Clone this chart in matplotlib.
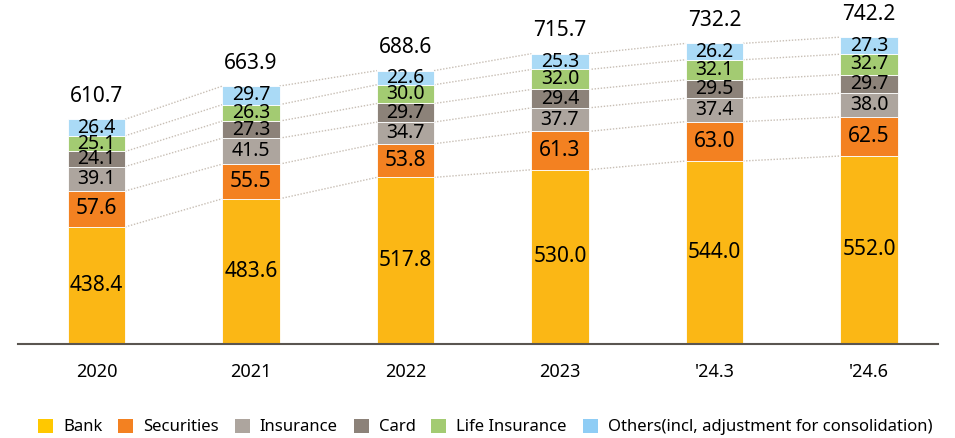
import numpy as np
import matplotlib
matplotlib.use("Agg")
import matplotlib.pyplot as plt
from matplotlib.patches import Patch

plt.rcParams['font.family'] = ['Noto Sans', 'DejaVu Sans']

# data
periods = ["2020", "2021", "2022", "2023", "'24.3", "'24.6"]
bank = [438.4, 483.6, 517.8, 530.0, 544.0, 552.0]
securities = [57.6, 55.5, 53.8, 61.3, 63.0, 62.5]
insurance = [39.1, 41.5, 34.7, 37.7, 37.4, 38.0]
card = [24.1, 27.3, 29.7, 29.4, 29.5, 29.7]
life = [25.1, 26.3, 30.0, 32.0, 32.1, 32.7]
others = [26.4, 29.7, 22.6, 25.3, 26.2, 27.3]
totals = [610.7, 663.9, 688.6, 715.7, 732.2, 742.2]

series = [bank, securities, insurance, card, life, others]
names = ["Bank", "Securities", "Insurance", "Card", "Life Insurance",
         "Others(incl, adjustment for consolidation)"]
colors = ["#FBB715", "#F38121", "#ADA59E", "#8C8279", "#A3CB72", "#AADAF6"]
legend_colors = ["#FFC800", "#F38121", "#ADA59E", "#8C8279", "#A3CB72", "#8FCDF5"]

# y axis is cut off (bars start below the visible area)
y0 = 251.2
y1 = y0 + 334 * 1.6

fig = plt.figure(figsize=(9.55, 4.38), dpi=100)
ax = fig.add_axes([18 / 955, 1 - 344 / 438, 920 / 955, 334 / 438])

x = np.arange(len(periods))
w = 0.37
bottom = np.zeros(len(periods))
tops = []
for vals, c in zip(series, colors):
    vals = np.array(vals)
    ax.bar(x, vals, w, bottom=bottom, color=c, edgecolor='white', linewidth=0.6, zorder=2)
    for xi, b, v in zip(x, bottom, vals):
        mid = (max(b, y0) + b + v) / 2
        fs = 15 if v > 45 else 14
        ax.text(xi, mid, f"{v:.1f}", ha='center', va='center',
                fontsize=fs, color='black', zorder=4)
    bottom = bottom + vals
    tops.append(bottom.copy())

# dotted connectors between bars
for t in tops:
    for i in range(len(periods) - 1):
        ax.plot([x[i] + w / 2, x[i + 1] - w / 2], [t[i], t[i + 1]],
                color='#C8BFB5', linestyle=(0, (1, 1.2)), linewidth=1.0, zorder=1)

for xi, t in zip(x, totals):
    ax.annotate(f"{t:.1f}", (xi, t), xytext=(0, 9), textcoords='offset points',
                ha='center', va='bottom', fontsize=15, fontweight='bold')

ax.set_xlim(-0.508, 5.447)
ax.set_ylim(y0, y1)
ax.set_xticks(x)
ax.set_xticklabels(periods, fontsize=13)
ax.tick_params(axis='x', length=0, pad=14)
ax.set_yticks([])
for s in ['top', 'right', 'left']:
    ax.spines[s].set_visible(False)
ax.spines['bottom'].set_color('#5A5550')
ax.spines['bottom'].set_linewidth(1.5)

handles = [Patch(facecolor=c, edgecolor='none') for c in legend_colors]
fig.legend(handles, names, loc='center', bbox_to_anchor=(0.508, 1 - 427 / 438),
           ncol=6, frameon=False, fontsize=12, handlelength=0.9, handleheight=0.9,
           handletextpad=0.6, columnspacing=0.95)

fig.savefig("out.png", dpi=100)
